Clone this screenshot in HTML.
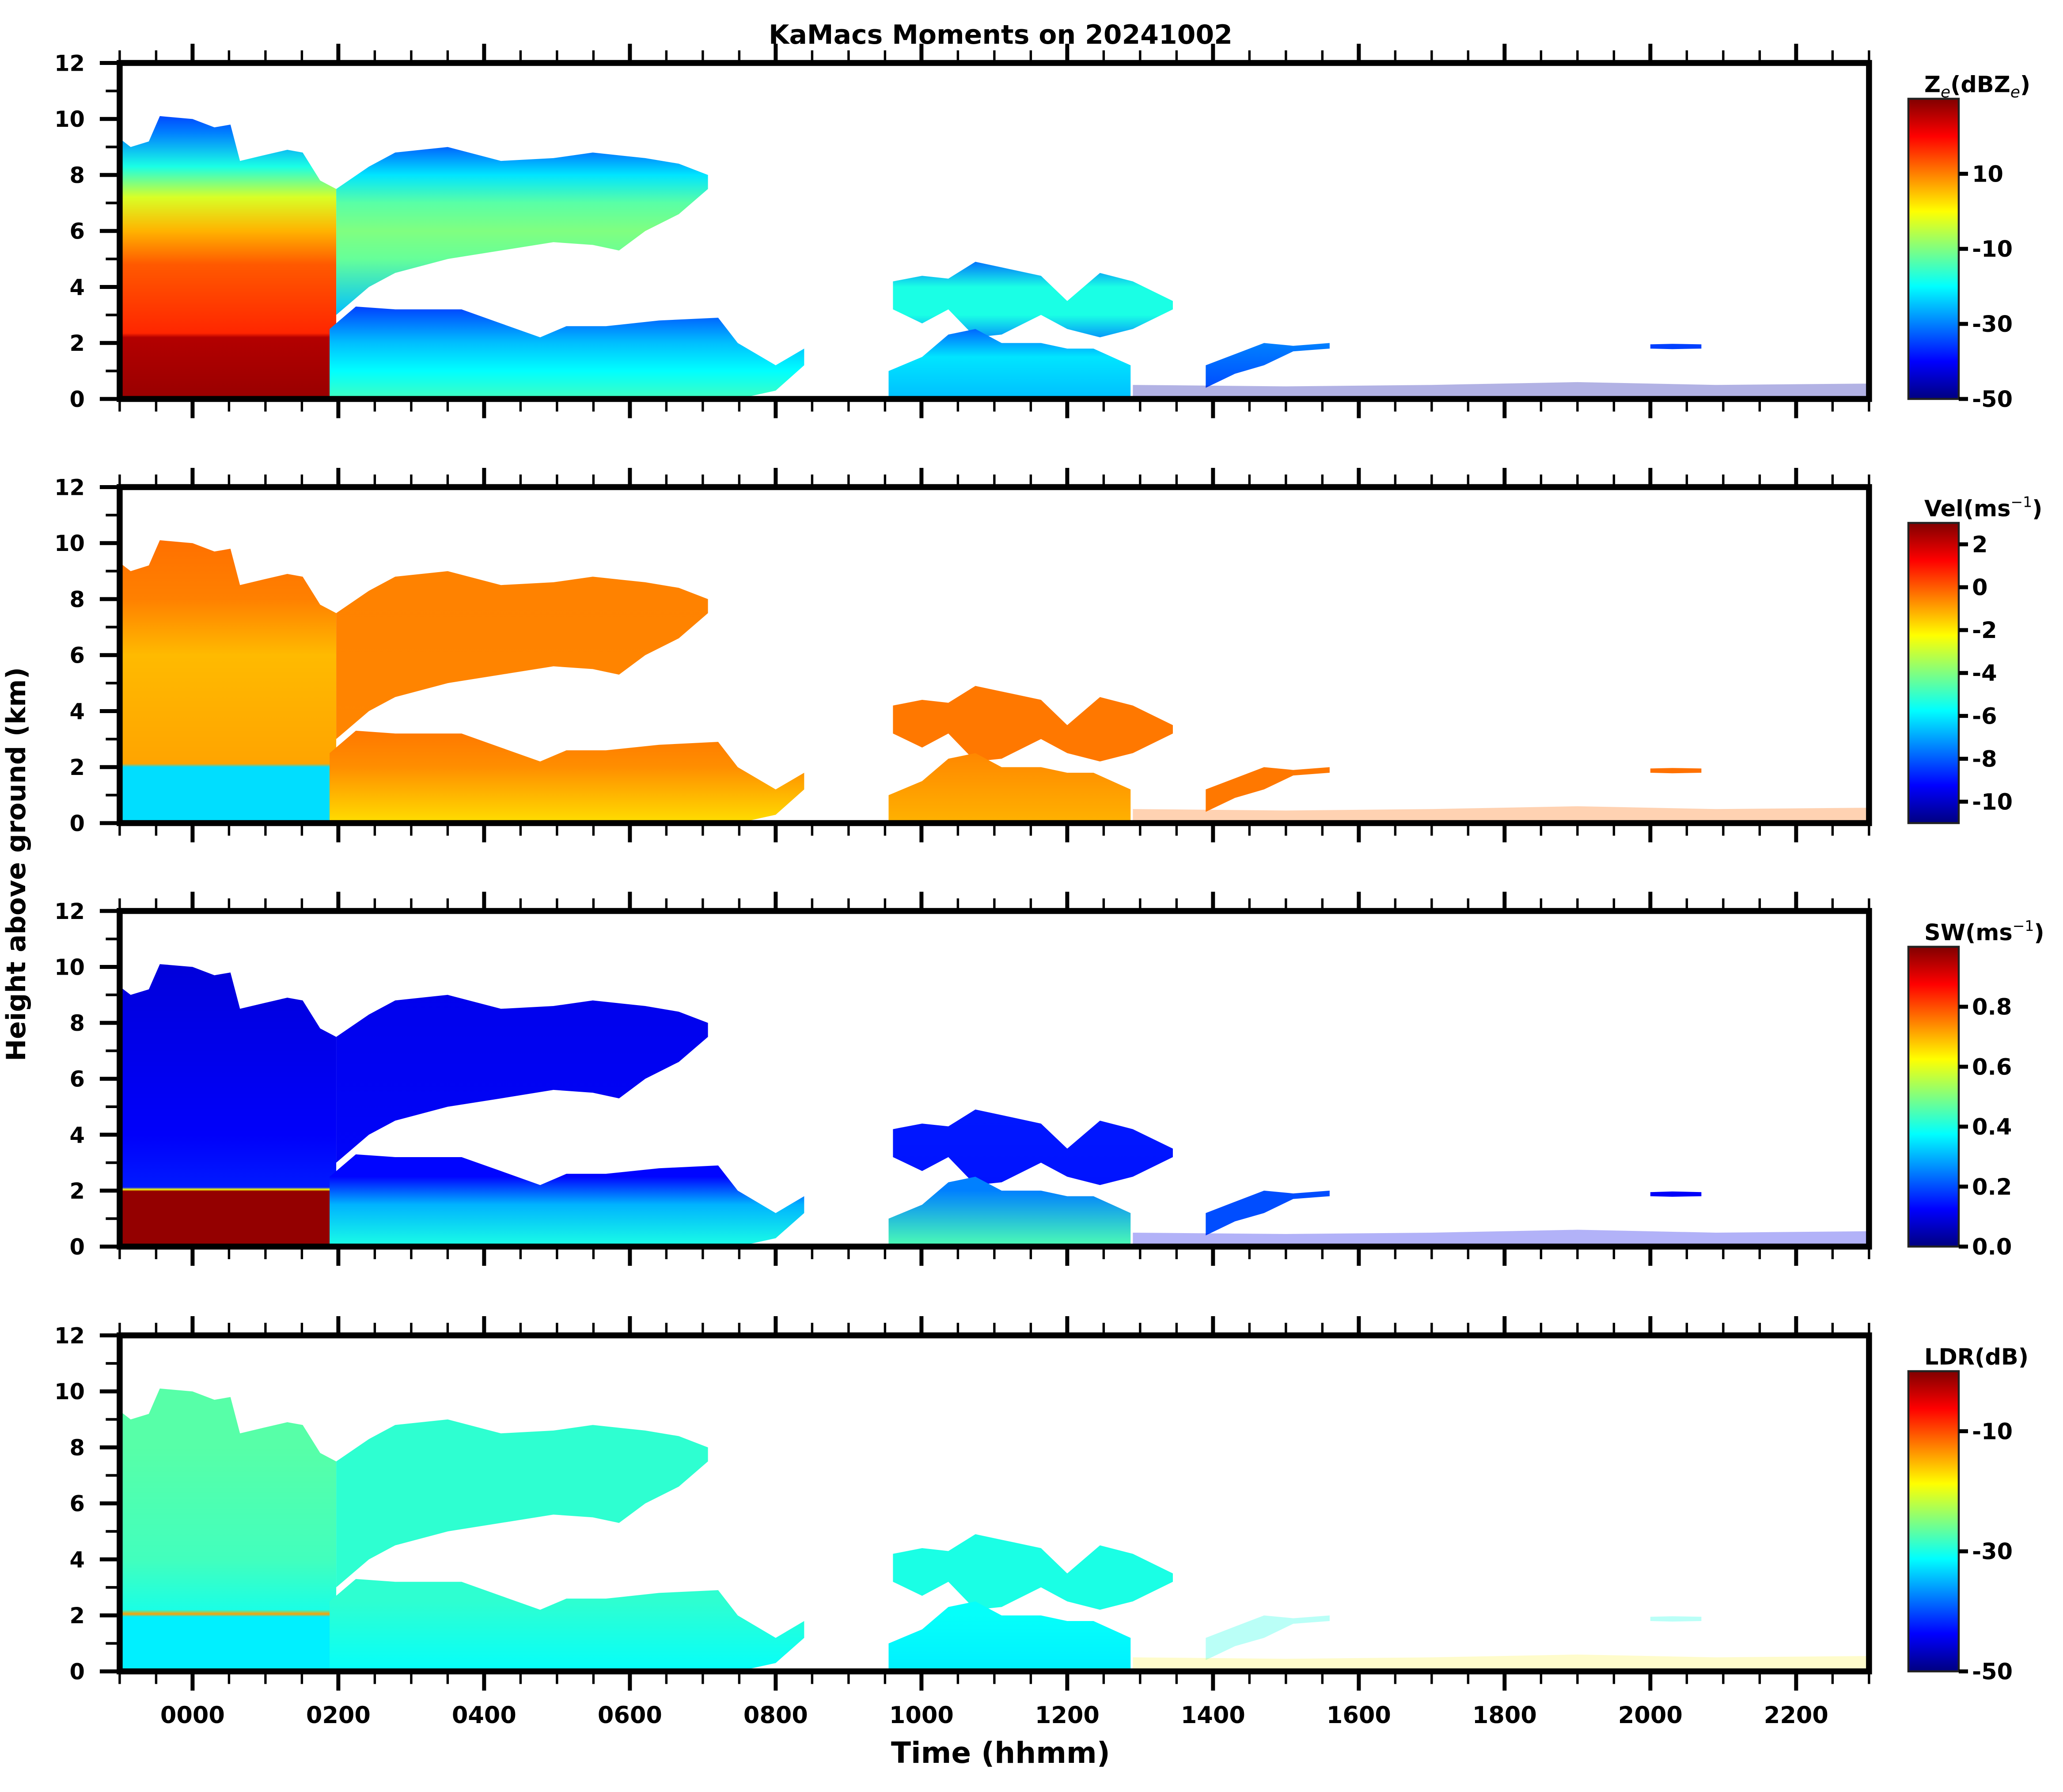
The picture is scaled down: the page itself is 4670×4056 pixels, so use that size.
<!DOCTYPE html>
<html><head><meta charset="utf-8"><style>
html,body{margin:0;padding:0;background:#fff;}
svg{display:block;font-family:"DejaVu Sans","Liberation Sans",sans-serif;font-weight:bold;}
</style></head><body>
<svg id="fig" xmlns="http://www.w3.org/2000/svg" width="4670" height="4056" viewBox="0 0 1556.667 1352">
<defs id="defs"></defs>
<text x="755" y="33" font-size="20" text-anchor="middle">KaMacs Moments on 20241002</text>
<text x="0" y="0" font-size="20" text-anchor="middle" transform="translate(19,652) rotate(-90)">Height above ground (km)</text>
<text x="755" y="1330" font-size="22" text-anchor="middle">Time (hhmm)</text>
<g id="plots"></g>
</svg>
<script>
// ---- data (time in hours, height in km) ----
const tA = [-1,-0.85,-0.6,-0.45,0,0.3,0.52,0.65,0.97,1.3,1.51,1.75,1.97];
const topA = [9.3,9.0,9.2,10.1,10.0,9.7,9.8,8.5,8.7,8.9,8.8,7.8,7.5];
const baseA = [0,0,0,0,0,0,0,0,0,0,0,0,0];
const tB = [1.97,2.42,2.78,3.5,4.23,4.95,5.49,5.85,6.21,6.67,7.07];
const topB = [7.5,8.3,8.8,9.0,8.5,8.6,8.8,8.7,8.6,8.4,8.0];
const baseB = [3.0,4.0,4.5,5.0,5.3,5.6,5.5,5.3,6.0,6.6,7.5];
const tC = [1.88,2.24,2.78,3.69,4.23,4.77,5.13,5.67,6.4,7.21,7.48,8.0,8.39];
const topC = [2.5,3.3,3.2,3.2,2.7,2.2,2.6,2.6,2.8,2.9,2.0,1.2,1.8];
const baseC = [0,0,0,0,0,0,0,0,0,0,0,0.3,1.2];
const tD = [9.61,10.01,10.37,10.74,11.1,11.64,12.0,12.45,12.9,13.45];
const topD = [4.2,4.4,4.3,4.9,4.7,4.4,3.5,4.5,4.2,3.5];
const baseD = [3.2,2.7,3.2,2.2,2.3,3.0,2.5,2.2,2.5,3.2];
const tE = [9.55,10.01,10.37,10.74,11.1,11.64,12.0,12.36,12.87];
const topE = [1.0,1.5,2.3,2.5,2.0,2.0,1.8,1.8,1.2];
const baseE = [0,0,0,0,0,0,0,0,0];
const tF = [13.9,14.3,14.7,15.1,15.6];
const topF = [1.2,1.6,2.0,1.9,2.0];
const baseF = [0.4,0.9,1.2,1.7,1.8];
const tG = [12.9,15,17,19,20.9,23];
const topG = [0.5,0.45,0.5,0.6,0.5,0.55];
const baseG = [0,0,0,0,0,0];
const tH = [20.0,20.3,20.7];
const topH = [1.95,1.97,1.95];
const baseH = [1.8,1.78,1.8];

// value profiles: [height, value]
const zeProf = {A:[[0,28],[2.2,26],[2.35,17],[4.8,13],[6,6],[7.2,-3],[8.3,-18],[9.5,-30],[10.2,-35]],
  B:[[3,-25],[5,-12],[6,-10],[7,-13],[8,-22],[9,-32]], C:[[0,-15],[1,-20],[2,-25],[3.3,-35]],
  D:[[2,-30],[3,-18],[4,-18],[5,-32]], E:[[0,-25],[1.5,-22],[2.5,-32]], F:[[0,-35],[2,-30]],
  G:[[0,-47],[1,-47]], H:[[0,-35],[3,-35]]};
const velProf = {A:[[0,-6.2],[2.0,-6.2],[2.12,-1],[6,-1.3],[8,-0.5],[10,-0.3]],
  B:[[0,-0.6],[12,-0.5]], C:[[0,-1.8],[2,-0.7],[3.3,-0.4]], D:[[0,-0.4],[12,-0.4]],
  E:[[0,-1.2],[2.5,-0.6]], F:[[0,-0.4],[2,-0.4]], G:[[0,-0.2],[1,-0.2]], H:[[0,-0.3],[3,-0.3]]};
const swProf = {A:[[0,0.98],[1.98,0.98],[2.04,0.62],[2.12,0.15],[4,0.12],[12,0.08]],
  B:[[0,0.13],[12,0.1]], C:[[0,0.4],[1.5,0.3],[2.5,0.13]], D:[[0,0.14],[12,0.16]],
  E:[[0,0.45],[2,0.25]], F:[[0,0.2],[2,0.2]], G:[[0,0.1],[1,0.1]], H:[[0,0.12],[3,0.12]]};
const ldrProf = {A:[[0,-32],[1.95,-32],[2.05,-14],[2.2,-30],[4,-28],[8,-27]],
  B:[[0,-29],[12,-29]], C:[[0,-31],[2.5,-29]], D:[[0,-30],[12,-30]], E:[[0,-32],[2,-31]],
  F:[[0,-30],[2,-30]], G:[[0,-18],[1,-18]], H:[[0,-30],[3,-30]]};

const layerKeys = ['A','B','C','D','E','F','G','H'];
const layerT = {A:tA,B:tB,C:tC,D:tD,E:tE,F:tF,G:tG,H:tH};
const layerTop = {A:topA,B:topB,C:topC,D:topD,E:topE,F:topF,G:topG,H:topH};
const layerBase = {A:baseA,B:baseB,C:baseC,D:baseD,E:baseE,F:baseF,G:baseG,H:baseH};

const cbTicks = [[10,-10,-30,-50],[2,0,-2,-4,-6,-8,-10],[0.8,0.6,0.4,0.2,0.0],[-10,-30,-50]];
const cbTickLabels = [['10','-10','-30','-50'],['2','0','-2','-4','-6','-8','-10'],['0.8','0.6','0.4','0.2','0.0'],['-10','-30','-50']];
const xTickLabels = ['0000','0200','0400','0600','0800','1000','1200','1400','1600','1800','2000','2200'];
const yTickLabels = ['0','2','4','6','8','10','12'];

// ---- layout ----
const NS = 'http://www.w3.org/2000/svg';
const panels = [
 {name:'reflectivity', top:47.5, bot:301, prof:zeProf, vmin:-50, vmax:30, title:'Z', sub:true},
 {name:'velocity', top:367.5, bot:621, prof:velProf, vmin:-11, vmax:3, title:'Vel(ms', sup:true},
 {name:'spectral-width', top:687.3, bot:940.5, prof:swProf, vmin:0, vmax:1, title:'SW(ms', sup:true},
 {name:'ldr', top:1007.5, bot:1261, prof:ldrProf, vmin:-50, vmax:0, title:'LDR(dB)'}
];
const X0 = 90.3, X1 = 1410.3;
const xs = t => 145.3 + 55.0*t;
function jet(v){v=Math.max(0,Math.min(1,v));const c=x=>Math.round(255*Math.max(0,Math.min(1,x)));
 return `rgb(${c(1.5-Math.abs(4*v-3))},${c(1.5-Math.abs(4*v-2))},${c(1.5-Math.abs(4*v-1))})`;}
function el(tag,attrs,parent){const e=document.createElementNS(NS,tag);for(const k in attrs)e.setAttribute(k,attrs[k]);parent.appendChild(e);return e;}
const defs=document.getElementById('defs'), root=document.getElementById('plots');

panels.forEach((p,pi)=>{
 const ys = h => p.bot - h*(p.bot-p.top)/12;
 const g = el('g',{},root);
 
 
 const clipId='clip'+pi;
 const cp=el('clipPath',{id:clipId},defs); el('rect',{x:X0,y:p.top,width:X1-X0,height:p.bot-p.top},cp);
 const data = el('g',{'clip-path':`url(#${clipId})`},g);
 layerKeys.forEach(k=>{
  const gid=`g${pi}${k}`;
  const lg=el('linearGradient',{id:gid,gradientUnits:'userSpaceOnUse',x1:0,x2:0,y1:ys(0),y2:ys(12)},defs);
  p.prof[k].forEach(([h,v])=>{el('stop',{offset:h/12,'stop-color':jet((v-p.vmin)/(p.vmax-p.vmin))},lg);});
  const T=layerT[k],Tp=layerTop[k],B=layerBase[k];
  let pts=T.map((t,i)=>`${xs(t).toFixed(1)},${ys(Tp[i]).toFixed(1)}`);
  for(let i=T.length-1;i>=0;i--)pts.push(`${xs(T[i]).toFixed(1)},${ys(B[i]).toFixed(1)}`);
  let op=1;
  if(k==='G')op=(pi===3?0.2:0.3);
  if(k==='F'&&pi===3)op=0.3;
  if(k==='H'&&pi===3)op=0.3;
  const poly=el('polygon',{points:pts.join(' '),fill:`url(#${gid})`,opacity:op},data);
  
  
 });
 // ticks x
 for(let t=-1;t<=23.001;t+=0.5){
  const major = Math.abs((t/2)-Math.round(t/2))<1e-6;
  const L = major?14.5:9.5, w = major?3:1.8;
  el('line',{x1:xs(t),x2:xs(t),y1:p.bot,y2:p.bot+L,stroke:'#000','stroke-width':w},g);
  el('line',{x1:xs(t),x2:xs(t),y1:p.top,y2:p.top-L,stroke:'#000','stroke-width':w},g);
 }
 // ticks y
 for(let h=0;h<=12;h++){
  const major=h%2===0, L=major?15:10.5;
  el('line',{x1:X0,x2:X0-L,y1:ys(h),y2:ys(h),stroke:'#000','stroke-width':major?3:2},g);
 }
 yTickLabels.forEach((s,i)=>{const tx=el('text',{x:64,y:ys(i*2)+6,'font-size':16.5,'text-anchor':'end'},g);tx.textContent=s;
  
  });
 if(pi===3){xTickLabels.forEach((s,i)=>{const tx=el('text',{x:xs(i*2),y:1300,'font-size':17.5,'text-anchor':'middle'},g);tx.textContent=s;
  
  });}
 const fr=el('rect',{x:X0,y:p.top,width:X1-X0,height:p.bot-p.top,fill:'none',stroke:'#000','stroke-width':4.5},g);
 
 
 // colorbar
 const cx0=1440,cx1=1478,ct=p.top+27,cb=p.bot;
 const cg=el('linearGradient',{id:'cb'+pi,x1:0,x2:0,y1:1,y2:0},defs);
 for(let i=0;i<=8;i++)el('stop',{offset:i/8,'stop-color':jet(i/8)},cg);
 const cbar=el('rect',{x:cx0,y:ct,width:cx1-cx0,height:cb-ct,fill:`url(#cb${pi})`,stroke:'#222','stroke-width':1.5},g);
 
 
 const cy=v=>cb-(v-p.vmin)/(p.vmax-p.vmin)*(cb-ct);
 cbTicks[pi].forEach((v,i)=>{
  el('line',{x1:cx1,x2:cx1+7,y1:cy(v),y2:cy(v),stroke:'#000','stroke-width':3},g);
  const tx=el('text',{x:1488,y:cy(v)+6,'font-size':17},g);tx.textContent=cbTickLabels[pi][i];
  
  
 });
 const tt=el('text',{x:1452,y:p.top+22,'font-size':17},g);
 
 
 if(p.sub){tt.innerHTML='Z<tspan font-size="12" font-style="italic" font-weight="normal" dy="4">e</tspan><tspan dy="-4">(dBZ</tspan><tspan font-size="12" font-style="italic" font-weight="normal" dy="4">e</tspan><tspan dy="-4">)</tspan>';}
 else if(p.sup){tt.innerHTML=p.title+'<tspan font-size="11" font-weight="normal" dy="-7">−1</tspan><tspan dy="7">)</tspan>';}
 else tt.textContent=p.title;
});
</script>
</body></html>
